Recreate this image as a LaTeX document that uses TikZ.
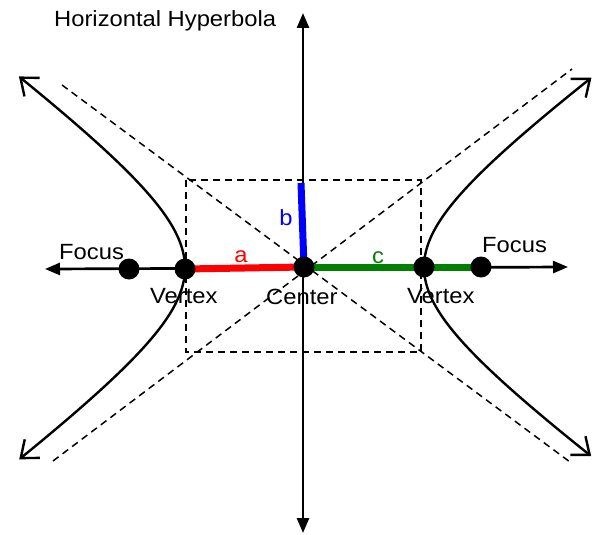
\documentclass[tikz,border=0pt]{standalone}
\usepackage{fontspec}
\setmainfont{Liberation Sans}[FakeStretch=1.08]
\usetikzlibrary{arrows.meta,positioning}
\definecolor{SegA}{HTML}{FF0000}
\definecolor{SegB}{HTML}{0000FF}
\definecolor{SegC}{HTML}{008000}

\tikzset{
  dot/.style={circle, fill=black, minimum size=21pt, inner sep=0pt},
  axis/.style={line width=2.7pt,
    {Triangle[length=15pt,width=12pt]}-{Triangle[length=15pt,width=12pt]}},
  branch/.style={line width=2.4pt,
    {Straight Barb[length=15pt,width=24pt]}-{Straight Barb[length=15pt,width=24pt]}},
  guide/.style={line width=1.5pt, dash pattern=on 7pt off 5pt},
  seg/.style={line width=7pt},
  lbl/.style={font=\fontsize{22}{25}\selectfont, inner sep=0pt, anchor=base west},
}

\begin{document}
\begin{tikzpicture}[x=1pt, y=-1pt]
    \useasboundingbox (0,0) rectangle (597,535);

    % box and asymptotes
    \draw[guide] (186,180) rectangle (421,352);
    \draw[guide] (62,85) -- (570,462);
    \draw[guide] (53,461) -- (572,69);

    % axes
    \coordinate (xl) at (45,269);
    \coordinate (xr) at (568,267);
    \coordinate (yt) at (303,13);
    \coordinate (yb) at (303,533);
    \draw[axis] (xl) -- (xr);
    \draw[axis] (yt) -- (yb);

    % the two branches
    \draw[branch] plot[domain=-1.52:1.52, samples=80, variable=\t]
      ({304+120*cosh(\t)}, {267+87*sinh(\t)});
    \draw[branch] plot[domain=-1.52:1.52, samples=80, variable=\t]
      ({304-119*cosh(\t)}, {268+88*sinh(\t)});

    % a, b, c
    \coordinate (pVl) at (185,269);
    \coordinate (pC) at (304,267);
    \coordinate (pFr) at (481,267);
    \coordinate (bt) at (301,183);
    \draw[seg, SegA] (pVl) -- (pC);
    \draw[seg, SegB] (bt) -- (pC);
    \draw[seg, SegC] (pC) -- (pFr);

    % points on the axis
    \node[dot] (Fl) at (129,269) {};
    \node[dot] (Vl) at (pVl) {};
    \node[dot] (C)  at (pC) {};
    \node[dot] (Vr) at (424,267) {};
    \node[dot] (Fr) at (pFr) {};

    % labels
    \node[lbl] (title) at (54,27) {Horizontal Hyperbola};
    \node[lbl] (fl-l) at (59,259) {Focus};
    \node[lbl] (fr-l) at (482,252) {Focus};
    \node[lbl] (vl-l) at (150,303) {Vertex};
    \node[lbl] (vr-l) at (407,303) {Vertex};
    \node[lbl] (c-l)  at (266,304) {Center};
    \node[lbl, anchor=base, text=SegA] (a-l) at (241,262) {a};
    \node[lbl, anchor=base, text=SegB] (b-l) at (286,225) {b};
    \node[lbl, anchor=base, text=SegC] (c-l2) at (378,263) {c};
\end{tikzpicture}
\end{document}
